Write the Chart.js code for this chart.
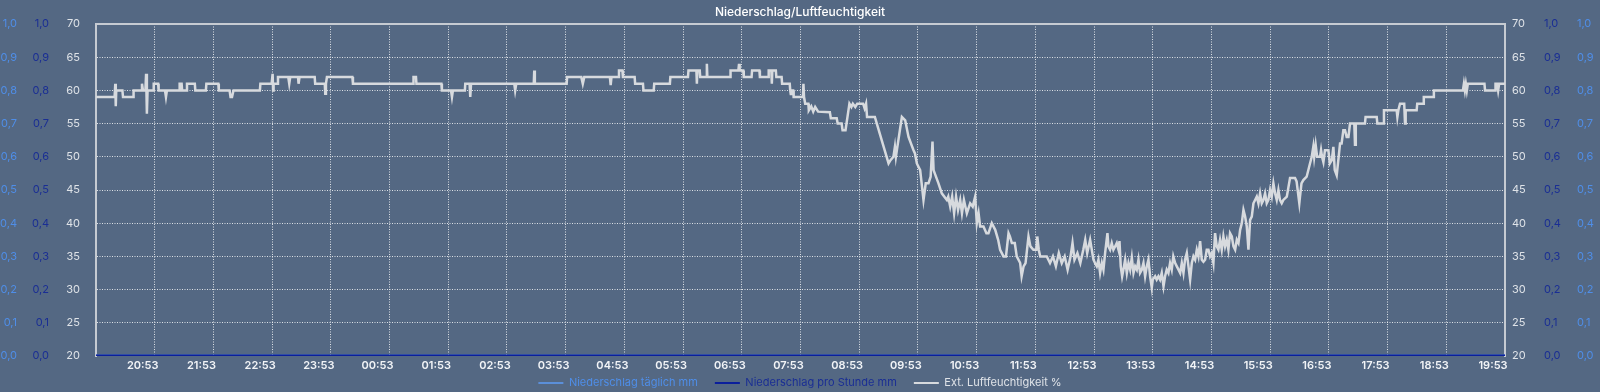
<!DOCTYPE html>
<html><head><meta charset="utf-8">
<script src="https://cdn.jsdelivr.net/npm/chart.js@4/dist/chart.umd.min.js"></script>
<style>html,body{margin:0;padding:0;background:#546883;overflow:hidden}canvas{display:block}</style>
</head><body>
<canvas id="c" width="1600" height="392"></canvas>
<script>
// ---- data ----
const chartTitle = 'Niederschlag/Luftfeuchtigkeit';
const seriesNames = ['Niederschlag täglich mm', 'Niederschlag pro Stunde mm', 'Ext. Luftfeuchtigkeit %'];
// x: minutes since 19:53 (start of the 24 h window)
const xTickLabels = ['20:53','21:53','22:53','23:53','00:53','01:53','02:53','03:53','04:53','05:53','06:53','07:53','08:53','09:53','10:53','11:53','12:53','13:53','14:53','15:53','16:53','17:53','18:53','19:53'];
const rainTickLabels = ['0,0','0,1','0,2','0,3','0,4','0,5','0,6','0,7','0,8','0,9','1,0'];
const rainTimes = [0, 240, 480, 720, 960, 1200, 1440];
const rainDaily = [0, 0, 0, 0, 0, 0, 0];
const rainHourly = [0, 0, 0, 0, 0, 0, 0];
// [minute, humidity %]
const humidity = [
[0,59],[19,59],[19.7,61],[20.2,57.6],[20.7,60],[27,60],[27.6,59],[38,59],[38.4,60],[46.5,60],[47,61],[48,60],[50.5,60],[51.2,62.5],[52,56.5],[52.7,60],
[58.5,60],[59,61],[63.5,61],[64,60],[70.5,60],[71.5,59],[72.5,60],[85,60],[85.5,61],[87.5,61],[88,60],[92.5,60],[93,61],[101,61],[101.5,60],
[112.3,60],[112.8,61],[125,61],[125.5,60],[136.5,60],[137.5,59],[139,59],[140.5,60],[167.5,60],[168,61],[179.5,61],[180.5,62.5],[181,60],[181.5,61],
[185,61],[186,62],[196.5,62],[197.5,61],[198.5,62],[206.5,62],[207,61],[208,62],[223.5,62],[224,61],[233.8,61],[234.3,59.5],[235,61],[236,62],
[262,62],[262.6,61],[324,61],[324.5,62],[327,62],[327.5,61],[353,61],[353.5,60],[362.8,60],[363.8,59],[364.8,60],[377,60],[377.4,61],[381.8,61],
[382.5,59],[383.3,61],[427.5,61],[428.4,60],[429.5,61],[447.4,61],[447.9,63],[448.5,61],[481,61],[481.5,62],[496,62],[497.5,61],[499,62],
[525.2,62],[526,60.8],[526.8,62],[534,62],[534.5,63],[538,63],[538.5,62],[550.5,62],[551,61],[559,61],[559.5,60],[570,60],[570.5,61],[586.5,61],
[587,62],[605,62],[605.5,63],[613.6,63],[614.1,61],[614.6,63],[617,63],[617.5,62],[623.8,62],[624.3,64],[624.8,62],[648,62],[648.5,63],[656.5,63],
[657.2,64],[657.8,63],[661.5,63],[662,62],[670,62],[670.5,63],[678,63],[678.5,62],[687,62],[687.5,63],[690.2,63],[690.7,61],[691.2,63],[694.8,63],
[695.3,62],[700.7,62],[701.2,61],[709,61],[709.5,60],[710.2,59.3],[711,60],[712.5,60],[713,59],[722.5,59],[723,61],[723.6,59],[724.8,58],[728,58],
[728.5,57],[731,57.6],[733,56.8],[735,57.5],[738,56.8],[750,56.7],[751,55.8],[757,55.8],[758,55],[762,55],[763,54],[766,54],[767,55],[770,58],
[772,57.5],[773.5,58],[776,57.5],[778,58],[784,58],[785.5,57.3],[787,58],[788,56],[796,56],[798,55],[810,49],[812,49.5],[815,50],[816.5,51.5],
[817.5,50],[818.5,51],[823.6,56],[827,55.5],[830.4,53],[835.5,51],[837,50.5],[838.9,49],[842.3,48],[845.7,43.5],[848,46],[850.8,46],[853,47],
[854.9,52.3],[856,48],[861,46],[864.4,44.5],[869.6,43.5],[871,44],[873,42.5],[875,44],[877,41.5],[879,44],[881,42],[883.2,43.5],[885,41.5],
[887,43.5],[890,41.5],[893.4,43],[896,42.5],[898.5,44],[900.2,40],[902,41.5],[903.6,39.5],[907,39.5],[910,38.5],[912.1,38.5],[915.5,40],[919,39],
[922,37.5],[924,36],[927.5,35],[930,35],[932.6,38.5],[934,38],[936,37],[939,37],[941,35],[944.5,34],[946,32],[948,33.5],[950,34],[953,38],
[955,36.5],[958,36],[961,36],[962,38],[963.5,36],[965,35],[971.7,35],[975,34],[978,35],[981,33.5],[984,35.5],[987,34],[990,35],[993,33],[996,35],
[998,37],[1000,34.5],[1003,35.5],[1006,34],[1009,36],[1011,37.5],[1013,35.5],[1016,37.5],[1017.7,36],[1019.4,34.5],[1021,34],[1022.8,33.5],
[1024.5,34.5],[1026.2,32.5],[1028,34],[1029.6,33],[1031.3,35.5],[1033.7,38.5],[1034.7,36.5],[1036.4,36],[1038.1,37],[1039.8,36],[1041.5,36.5],
[1043.2,37],[1045,36],[1046,37.3],[1047.3,33.5],[1048.7,32],[1050,33],[1051.8,34.5],[1053.5,32.5],[1055.2,34],[1056.9,33],[1058.6,34.8],
[1060.3,32.5],[1062,33.5],[1063.7,33],[1065.4,34.5],[1067,32.5],[1068.8,33],[1070.5,34],[1072.2,32],[1073.9,33.5],[1075.6,34.5],[1077.3,32],
[1079,30.3],[1080,31.5],[1082.4,32],[1084,31.5],[1085.8,32],[1087.5,31.5],[1089.2,32.5],[1091,30.5],[1092.6,32],[1094.3,33],[1096,32.5],
[1097.7,34],[1099.4,33],[1101,35],[1102.9,34],[1104.6,33.5],[1106.3,33],[1108,32.5],[1109.7,34],[1111.4,32.5],[1113,34.5],[1114.8,35.5],
[1116.5,33.5],[1118.2,31.5],[1119.9,34],[1121.6,35],[1123.3,34.5],[1125,36],[1126.7,35],[1128.4,37.3],[1130.1,34.5],[1131.8,34.2],[1133.5,34.5],
[1135.2,36],[1136.9,36],[1138.6,35],[1140.3,35.5],[1142,34],[1143.7,38.5],[1145.4,36.5],[1147.1,36],[1148.8,37.5],[1150.5,36],[1152.2,38],
[1153.9,36.5],[1155.6,37.5],[1157.3,36],[1159,38.5],[1160.8,38],[1162.5,36.5],[1164.2,36],[1165.9,37.5],[1167.6,37],[1169.3,39],[1171,40],
[1172.7,42],[1174.4,41],[1176.1,39.5],[1177.8,36],[1179.5,40.5],[1181.2,41],[1182.9,43],[1184.6,43.5],[1186.3,44],[1188,43],[1189.7,44.5],
[1191.4,43],[1193.1,43.5],[1194.8,44.5],[1196.5,43],[1198.2,43.5],[1199.9,45],[1201.6,44],[1203.3,46],[1205,44.5],[1206.7,43.5],[1208.4,45],
[1210,43.5],[1211.8,43],[1213.5,43.5],[1217,44],[1220.3,46.8],[1225.4,46.8],[1227,46.3],[1229.8,43],[1230.5,44],[1232,46],[1233.9,46.5],
[1237.3,47],[1240.7,49],[1242.5,50],[1244.1,51.5],[1245,50],[1246.5,51.8],[1248,50],[1251,50],[1252,51],[1253,50],[1254.4,49.2],[1256,51],
[1259.5,51],[1261,49],[1263,49.5],[1264.6,51.5],[1266,48],[1268,47.2],[1270,50],[1271.4,52],[1273,52],[1274.8,54],[1276.5,54],[1278.2,53],
[1280,53],[1281.6,55],[1286,55],[1286.7,51.8],[1287.5,55],[1296.9,55],[1297.5,56],[1308.9,56],[1309.5,55],[1315.7,55],[1316.3,57],[1329.3,57],
[1330,56],[1331,57],[1332.7,58],[1337,58],[1337.8,55],[1338.5,57],[1349.7,57],[1350.3,58],[1356.5,58],[1357,59],[1366.8,59],[1367.3,60],
[1397,60],[1398,61],[1399,60],[1400,61],[1401,60],[1402,61],[1419,61],[1419.6,60],[1429.8,60],[1430.3,61],[1432,61],[1433,60],[1434,61],[1440,61]
];

// ---- styling ----
const FONT = '"Inter", "Liberation Sans", Arial, sans-serif';
const C_LIGHT = '#4f8ee8', C_DARK = '#1a2e94', C_HUM = '#d7dade', C_TXT = '#dfe3e8';
const C_LIGHT_LINE = '#5b8fd9', C_DARK_LINE = '#0b1f9c';
const DOT = 'rgba(255,255,255,0.8)';
const FRAME = '#c6cbd2';
const LEGEND_TOP = 360.5;

const frameTop = {
  id: 'frameTop',
  afterLayout(chart) {
    const lg = chart.legend;
    if (lg) { const h = lg.bottom - lg.top; lg.top = LEGEND_TOP; lg.bottom = LEGEND_TOP + h; }
  },
  afterDatasetsDraw(chart) {
    const {ctx, chartArea: a} = chart;
    ctx.save(); ctx.strokeStyle = FRAME; ctx.lineWidth = 2;
    ctx.beginPath(); ctx.moveTo(a.left - 1, a.top); ctx.lineTo(a.right + 1, a.top); ctx.stroke();
    ctx.restore();
  }
};

function rainAxis(pos, color, weight, width, pad) {
  return {
    type: 'linear', position: pos, min: 0, max: 1, weight: weight,
    afterFit: s => { s.width = width; },
    grid: { display: false, drawTicks: false },
    border: { display: false },
    ticks: { stepSize: 0.1, padding: pad, color: color, font: { family: FONT, size: 11 },
      callback: (v, i) => rainTickLabels[i] }
  };
}

new Chart(document.getElementById('c'), {
  type: 'line',
  data: {
    datasets: [
      { label: seriesNames[0], data: rainTimes.map((t, i) => ({x: t, y: rainDaily[i]})), yAxisID: 'rD',
        borderColor: C_LIGHT_LINE, backgroundColor: C_LIGHT_LINE, borderWidth: 3, pointRadius: 0, order: 2 },
      { label: seriesNames[1], data: rainTimes.map((t, i) => ({x: t, y: rainHourly[i]})), yAxisID: 'rH',
        borderColor: C_DARK_LINE, backgroundColor: C_DARK_LINE, borderWidth: 3, pointRadius: 0, order: 1 },
      { label: seriesNames[2], data: humidity.map(p => ({x: p[0], y: p[1]})), yAxisID: 'y',
        borderColor: C_HUM, backgroundColor: C_HUM, borderWidth: 2.5, pointRadius: 0, tension: 0, order: 0 }
    ]
  },
  options: {
    responsive: false, animation: false, devicePixelRatio: 1,
    layout: { padding: { left: 0, right: 0, top: 0, bottom: -18 } },
    plugins: {
      title: { display: true, text: chartTitle, color: '#ffffff',
        font: { family: FONT, size: 12, weight: '500' }, padding: { top: 5.5, bottom: 4.1 } },
      legend: { position: 'bottom',
        labels: { boxWidth: 25, boxHeight: 2, padding: 17, font: { family: FONT, size: 11 },
          generateLabels: chart => chart.data.datasets.map((d, i) => ({
            text: d.label, fillStyle: d.borderColor, strokeStyle: d.borderColor, lineWidth: 0,
            fontColor: [C_LIGHT, C_DARK, C_TXT][i], datasetIndex: i, hidden: false })) } },
      tooltip: { enabled: false }
    },
    scales: {
      x: { type: 'linear', position: 'bottom', min: 0, max: 1440,
        afterFit: s => { s.height = 16; },
        grid: { drawTicks: false, lineWidth: 1,
          color: ctx => (ctx.tick && (ctx.tick.value === 0 || ctx.tick.value === 1440)) ? 'rgba(0,0,0,0)' : DOT },
        border: { display: false, dash: [1, 1.5] },
        ticks: { stepSize: 60, autoSkip: false, maxRotation: 0, padding: 3, labelOffset: -12,
          color: '#f2f4f7', font: { family: FONT, size: 11, weight: '600' },
          callback: v => v === 0 ? '' : xTickLabels[Math.round(v / 60) - 1] } },
      y: { type: 'linear', position: 'left', min: 20, max: 70, weight: 0,
        afterFit: s => { s.width = 34; },
        grid: { drawTicks: false, lineWidth: 1,
          color: ctx => (ctx.tick && (ctx.tick.value === 20 || ctx.tick.value === 70)) ? 'rgba(0,0,0,0)' : DOT },
        border: { display: true, color: FRAME, width: 2, dash: [1, 1.5] },
        ticks: { stepSize: 5, padding: 16, color: C_TXT, font: { family: FONT, size: 11 } } },
      yR: { type: 'linear', position: 'right', min: 20, max: 70, weight: 0,
        afterFit: s => { s.width = 32; },
        grid: { display: false, drawTicks: false },
        border: { display: true, color: FRAME, width: 2 },
        ticks: { stepSize: 5, padding: 7, color: C_TXT, font: { family: FONT, size: 11 } } },
      rH: rainAxis('left', C_DARK, 1, 32, 13),
      rD: rainAxis('left', C_LIGHT, 2, 30, 13),
      rHR: rainAxis('right', C_DARK, 1, 33, 7),
      rDR: rainAxis('right', C_LIGHT, 2, 30, 7)
    }
  },
  plugins: [frameTop]
});
</script>
</body></html>
